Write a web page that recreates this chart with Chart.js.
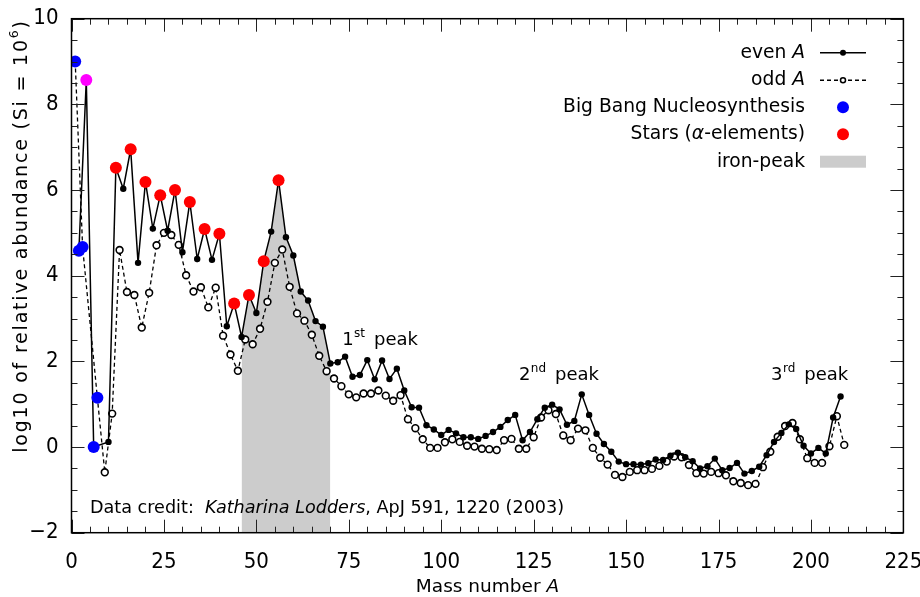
<!DOCTYPE html>
<html>
<head>
<meta charset="utf-8">
<title>Solar system abundances by mass number</title>
<script src="https://cdn.jsdelivr.net/npm/chart.js@4.4.1/dist/chart.umd.min.js"></script>
<style>
  html, body { margin: 0; padding: 0; background: #fff; }
  #chart { display: block; }
</style>
</head>
<body>
<canvas id="chart" width="920" height="597"></canvas>
<script>
// Abundances per mass number A, log10 with Si = 10^6

// even A
const evenA = [2, 4, 6, 10, 12, 14, 16, 18, 20, 22, 24, 26, 28, 30, 32, 34, 36, 38, 40, 42, 44, 46, 48, 50,
  52, 54, 56, 58, 60, 62, 64, 66, 68, 70, 72, 74, 76, 78, 80, 82, 84, 86, 88, 90, 92, 94, 96, 98, 100,
  102, 104, 106, 108, 110, 112, 114, 116, 118, 120, 122, 124, 126, 128, 130, 132, 134, 136, 138, 140,
  142, 144, 146, 148, 150, 152, 154, 156, 158, 160, 162, 164, 166, 168, 170, 172, 174, 176, 178, 180,
  182, 184, 186, 188, 190, 192, 194, 196, 198, 200, 202, 204, 206, 208];
const evenLog = [4.58, 8.57, 0.0, 0.12, 6.52, 6.03, 6.95, 4.30, 6.19, 5.10, 5.88, 5.05, 6.00, 4.55, 5.72, 4.39,
  5.09, 4.37, 4.98, 2.82, 3.35, 2.57, 3.55, 3.13, 4.34, 5.03, 6.23, 4.90, 4.47, 3.63, 3.42, 2.94, 2.81,
  1.95, 1.98, 2.11, 1.64, 1.68, 2.03, 1.58, 2.02, 1.59, 1.83, 1.32, 0.93, 0.92, 0.51, 0.41, 0.28,
  0.40, 0.32, 0.23, 0.23, 0.19, 0.26, 0.35, 0.47, 0.63, 0.75, 0.16, 0.35, 0.65, 0.92, 0.99, 0.88,
  0.52, 0.61, 1.23, 0.75, 0.31, 0.07, -0.11, -0.34, -0.40, -0.40, -0.41, -0.38, -0.29, -0.30, -0.20,
  -0.13, -0.24, -0.33, -0.50, -0.45, -0.27, -0.54, -0.49, -0.37, -0.62, -0.56, -0.46, -0.19, 0.12,
  0.33, 0.53, 0.42, 0.03, -0.15, -0.02, -0.15, 0.69, 1.18];

// odd A
const oddA = [1, 3, 7, 9, 11, 13, 15, 17, 19, 21, 23, 25, 27, 29, 31, 33, 35, 37, 39, 41, 43, 45, 47, 49,
  51, 53, 55, 57, 59, 61, 63, 65, 67, 69, 71, 73, 75, 77, 79, 81, 83, 85, 87, 89, 91, 93, 95, 97, 99,
  101, 103, 105, 107, 109, 111, 113, 115, 117, 119, 121, 123, 125, 127, 129, 131, 133, 135, 137, 139,
  141, 143, 145, 147, 149, 151, 153, 155, 157, 159, 161, 163, 165, 167, 169, 171, 173, 175, 177, 179,
  181, 183, 185, 187, 189, 191, 193, 195, 197, 199, 201, 203, 205, 207, 209];
const oddLog = [9.00, 4.67, 1.15, -0.59, 0.78, 4.60, 3.62, 3.55, 2.79, 3.60, 4.71, 5.00, 4.95, 4.72, 4.01, 3.63,
  3.73, 3.26, 3.72, 2.60, 2.16, 1.78, 2.51, 2.40, 2.76, 3.39, 4.30, 4.61, 3.74, 3.12, 2.95, 2.62, 2.13,
  1.77, 1.60, 1.42, 1.23, 1.16, 1.25, 1.25, 1.32, 1.20, 1.08, 1.21, 0.65, 0.44, 0.18, -0.02, -0.02,
  0.11, 0.18, 0.12, 0.03, 0.01, -0.04, -0.05, -0.07, 0.16, 0.19, -0.04, -0.04, 0.23, 0.69, 0.86, 0.77,
  0.27, 0.16, 0.43, 0.39, -0.02, -0.25, -0.41, -0.65, -0.70, -0.58, -0.54, -0.54, -0.51, -0.44, -0.34,
  -0.22, -0.24, -0.42, -0.61, -0.62, -0.58, -0.61, -0.66, -0.80, -0.84, -0.89, -0.86, -0.47, -0.11,
  0.24, 0.49, 0.56, 0.18, -0.26, -0.37, -0.37, 0.02, 0.72, 0.05];

// highlighted nuclei
const bigBangA = [1, 2, 3, 6, 7];
const alphaA = [12, 16, 20, 24, 28, 32, 36, 40, 44, 48, 52, 56];
const bothA = [4]; // 4He: Big Bang and stars

// iron-peak band
const ironFrom = 46;
const ironTo = 70;

// axes
const xMin = 0, xMax = 225, xStep = 25, xMinor = 5;
const yMin = -2, yMax = 10, yStep = 2, yMinor = 0.5;

const FONT = '"DejaVu Sans", sans-serif';
const TICK_FONT = '"Liberation Sans Narrow", "DejaVu Sans Condensed", sans-serif';

// helpers
function points(as, vs) {
  return as.map((a, i) => ({ x: a, y: vs[i] }));
}
function lookup(a) {
  let i = evenA.indexOf(a);
  if (i >= 0) return evenLog[i];
  i = oddA.indexOf(a);
  return i >= 0 ? oddLog[i] : null;
}
function marks(as) {
  return as.map((a) => ({ x: a, y: lookup(a) }));
}

const evenPts = points(evenA, evenLog);
const oddPts = points(oddA, oddLog);
const ironPts = evenPts.filter((p) => p.x >= ironFrom && p.x <= ironTo);

// draw a row of text pieces with different fonts / offsets
function runs(ctx, parts, x, y, align) {
  let total = 0;
  parts.forEach((p) => {
    ctx.font = p.font;
    p.w = ctx.measureText(p.text).width;
    total += p.w + (p.gap || 0);
  });
  let cx = align === 'right' ? x - total : align === 'center' ? x - total / 2 : x;
  parts.forEach((p) => {
    ctx.font = p.font;
    ctx.fillText(p.text, cx, y + (p.dy || 0));
    cx += p.w + (p.gap || 0);
  });
}

const frame = {
  id: 'frame',
  afterDraw(chart) {
    const { ctx, scales } = chart;
    const xs = scales.x, ys = scales.y;
    // plot box taken from the scales themselves
    const a = {
      left: xs.getPixelForValue(xMin),
      right: xs.getPixelForValue(xMax),
      top: ys.getPixelForValue(yMax),
      bottom: ys.getPixelForValue(yMin)
    };
    ctx.save();

    // inward ticks on all four sides
    ctx.strokeStyle = '#222';
    ctx.lineWidth = 1;
    ctx.beginPath();
    for (let v = xMin; v <= xMax; v += xMinor) {
      const px = Math.round(xs.getPixelForValue(v)) + 0.5;
      const len = v % xStep === 0 ? 13 : 6;
      ctx.moveTo(px, a.bottom); ctx.lineTo(px, a.bottom - len);
      ctx.moveTo(px, a.top); ctx.lineTo(px, a.top + len);
    }
    for (let v = yMin; v <= yMax; v += yMinor) {
      const py = Math.round(ys.getPixelForValue(v)) + 0.5;
      const len = v % yStep === 0 ? 13 : 6;
      ctx.moveTo(a.left, py); ctx.lineTo(a.left + len, py);
      ctx.moveTo(a.right, py); ctx.lineTo(a.right - len, py);
    }
    ctx.stroke();

    // box
    ctx.strokeStyle = '#000';
    ctx.lineWidth = 1.5;
    ctx.strokeRect(a.left, a.top, a.right - a.left, a.bottom - a.top);

    ctx.fillStyle = '#000';
    ctx.textBaseline = 'alphabetic';

    // peak labels
    const peaks = [
      { n: '1', sup: 'st', a: 73.2, y: 2.38 },
      { n: '2', sup: 'nd', a: 121.0, y: 1.56 },
      { n: '3', sup: 'rd', a: 189.2, y: 1.56 }
    ];
    peaks.forEach((p) => {
      runs(ctx, [
        { text: p.n, font: '18px ' + FONT, gap: 0.5 },
        { text: p.sup, font: '12px ' + FONT, dy: -8, gap: 9 },
        { text: 'peak', font: '18px ' + FONT }
      ], xs.getPixelForValue(p.a), ys.getPixelForValue(p.y), 'left');
    });

    // data credit
    runs(ctx, [
      { text: 'Data credit:  ', font: '17.6px ' + FONT },
      { text: 'Katharina Lodders', font: 'italic 17.6px ' + FONT },
      { text: ', ApJ 591, 1220 (2003)', font: '17.6px ' + FONT }
    ], xs.getPixelForValue(5.0), ys.getPixelForValue(-1.54), 'left');

    // legend
    const lx = 805, s0 = 820, s1 = 866, sm = 843;
    const rows = [52.7, 80.3, 107.3, 134.3, 161.7];
    const LF = '18.7px ' + FONT, LFI = 'italic 18.7px ' + FONT;
    ctx.textBaseline = 'middle';
    runs(ctx, [{ text: 'even ', font: LF }, { text: 'A', font: LFI }], lx, rows[0], 'right');
    runs(ctx, [{ text: 'odd ', font: LF }, { text: 'A', font: LFI }], lx, rows[1], 'right');
    runs(ctx, [{ text: 'Big Bang Nucleosynthesis', font: LF }], lx, rows[2], 'right');
    runs(ctx, [
      { text: 'Stars (', font: LF },
      { text: 'α', font: LFI },
      { text: '-elements)', font: LF }
    ], lx, rows[3], 'right');
    runs(ctx, [{ text: 'iron-peak', font: LF }], lx, rows[4], 'right');

    ctx.strokeStyle = '#000';
    ctx.lineWidth = 1.5;
    ctx.beginPath(); ctx.moveTo(s0, rows[0]); ctx.lineTo(s1, rows[0]); ctx.stroke();
    ctx.beginPath(); ctx.arc(sm, rows[0], 3, 0, Math.PI * 2); ctx.fill();
    ctx.setLineDash([4, 3]);
    ctx.beginPath(); ctx.moveTo(s0, rows[1]); ctx.lineTo(s1, rows[1]); ctx.stroke();
    ctx.setLineDash([]);
    ctx.fillStyle = '#fff';
    ctx.beginPath(); ctx.arc(sm, rows[1], 2.5, 0, Math.PI * 2); ctx.fill(); ctx.stroke();
    ctx.fillStyle = '#0000ff';
    ctx.beginPath(); ctx.arc(sm, rows[2], 6, 0, Math.PI * 2); ctx.fill();
    ctx.fillStyle = '#ff0000';
    ctx.beginPath(); ctx.arc(sm, rows[3], 6, 0, Math.PI * 2); ctx.fill();
    ctx.fillStyle = '#cccccc';
    ctx.fillRect(s0, rows[4] - 6, s1 - s0, 12);

    // axis titles
    ctx.fillStyle = '#000';
    runs(ctx, [
      { text: 'Mass number ', font: '18.5px ' + FONT },
      { text: 'A', font: 'italic 18.5px ' + FONT }
    ], (a.left + a.right) / 2, 587, 'center');

    ctx.translate(22, 236);
    ctx.rotate(-Math.PI / 2);
    ctx.letterSpacing = '1.8px';
    runs(ctx, [
      { text: 'log10 of relative abundance (Si = 10', font: '19px ' + FONT },
      { text: '6', font: '12.5px ' + FONT, dy: -7 },
      { text: ')', font: '19px ' + FONT }
    ], 0, 0, 'center');
    ctx.letterSpacing = '0px';

    ctx.restore();
  }
};

new Chart(document.getElementById('chart').getContext('2d'), {
  type: 'line',
  data: {
    datasets: [
      {
        label: 'Big Bang + stars',
        data: marks(bothA),
        showLine: false,
        pointRadius: 6,
        pointBorderWidth: 0,
        pointBackgroundColor: '#ff00ff',
        order: 0
      },
      {
        label: 'Big Bang Nucleosynthesis',
        data: marks(bigBangA),
        showLine: false,
        pointRadius: 6,
        pointBorderWidth: 0,
        pointBackgroundColor: '#0000ff',
        order: 0
      },
      {
        label: 'Stars (alpha-elements)',
        data: marks(alphaA),
        showLine: false,
        pointRadius: 6,
        pointBorderWidth: 0,
        pointBackgroundColor: '#ff0000',
        order: 0
      },
      {
        label: 'even A',
        data: evenPts,
        borderColor: '#000',
        borderWidth: 1.5,
        pointRadius: 3.2,
        pointBorderWidth: 0,
        pointBackgroundColor: '#000',
        tension: 0,
        order: 1
      },
      {
        label: 'odd A',
        data: oddPts,
        borderColor: '#000',
        borderWidth: 1.3,
        borderDash: [4, 3],
        pointRadius: 3.4,
        pointBorderWidth: 1.6,
        pointBorderColor: '#000',
        pointBackgroundColor: '#fff',
        tension: 0,
        order: 2
      },
      {
        label: 'iron-peak',
        data: ironPts,
        borderWidth: 0,
        pointRadius: 0,
        backgroundColor: '#cccccc',
        fill: 'start',
        tension: 0,
        order: 3
      }
    ]
  },
  options: {
    responsive: false,
    devicePixelRatio: 1,
    animation: false,
    events: [],
    layout: { padding: { left: 0, right: 16.6, top: 18.7, bottom: 0 } },
    plugins: {
      legend: { display: false },
      tooltip: { enabled: false },
      filler: { drawTime: 'beforeDatasetsDraw' }
    },
    scales: {
      x: {
        type: 'linear',
        min: xMin,
        max: xMax,
        afterFit: (s) => { s.height = 64.3; s.paddingLeft = 0; s.paddingRight = 0; },
        ticks: {
          stepSize: xStep,
          color: '#000',
          padding: 8,
          font: { family: TICK_FONT, size: 22 }
        },
        grid: { display: false },
        border: { display: false }
      },
      y: {
        min: yMin,
        max: yMax,
        afterFit: (s) => { s.width = 71.5; s.paddingTop = 0; s.paddingBottom = 0; },
        ticks: {
          stepSize: yStep,
          color: '#000',
          padding: 5,
          font: { family: TICK_FONT, size: 22 },
          callback: (v) => String(v).replace('-', '\u2212')
        },
        grid: { display: false },
        border: { display: false }
      }
    }
  },
  plugins: [frame]
});
</script>
</body>
</html>
